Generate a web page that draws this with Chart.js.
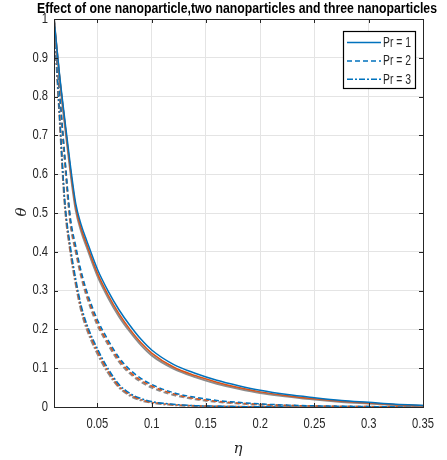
<!DOCTYPE html>
<html>
<head>
<meta charset="utf-8">
<script src="https://cdn.jsdelivr.net/npm/chart.js@4.4.1/dist/chart.umd.min.js"></script>
<style>
  body { margin: 0; background: #fff; }
</style>
</head>
<body>
<canvas id="c" width="447" height="460"></canvas>
<script>
// eta (x) values
const eta = [0.01, 0.015, 0.02, 0.025, 0.03, 0.035, 0.04, 0.05, 0.06, 0.07, 0.08, 0.09, 0.1,
  0.12, 0.14, 0.16, 0.18, 0.2, 0.225, 0.25, 0.275, 0.3, 0.325, 0.35];

// Pr = 1 (solid)
const pr1Blue = [1.0, 0.86, 0.74, 0.625, 0.525, 0.47, 0.43, 0.355, 0.298, 0.25, 0.21, 0.175, 0.147,
  0.11, 0.087, 0.069, 0.055, 0.043, 0.032, 0.024, 0.017, 0.012, 0.007, 0.004];
const pr1Orange = [1.0, 0.855, 0.732, 0.615, 0.515, 0.46, 0.42, 0.345, 0.288, 0.24, 0.2, 0.166, 0.139,
  0.103, 0.081, 0.064, 0.05, 0.039, 0.029, 0.021, 0.015, 0.01, 0.006, 0.003];
const pr1Gray = [1.0, 0.85, 0.726, 0.608, 0.508, 0.453, 0.413, 0.338, 0.281, 0.233, 0.194, 0.16, 0.133,
  0.099, 0.077, 0.06, 0.047, 0.036, 0.027, 0.019, 0.013, 0.009, 0.005, 0.003];

// Pr = 2 (dashed)
const pr2Blue = [1.0, 0.82, 0.645, 0.49, 0.415, 0.35, 0.3, 0.225, 0.172, 0.127, 0.096, 0.074, 0.058,
  0.037, 0.025, 0.017, 0.012, 0.008, 0.005, 0.003, 0.002, 0.001, 0.0005, 0];
const pr2Orange = [1.0, 0.815, 0.637, 0.481, 0.406, 0.342, 0.292, 0.217, 0.165, 0.121, 0.09, 0.069, 0.054,
  0.034, 0.022, 0.015, 0.01, 0.007, 0.004, 0.0025, 0.0015, 0.001, 0.0005, 0];
const pr2Gray = [1.0, 0.81, 0.631, 0.475, 0.4, 0.336, 0.286, 0.211, 0.16, 0.116, 0.086, 0.065, 0.05,
  0.031, 0.02, 0.013, 0.009, 0.006, 0.0035, 0.002, 0.0012, 0.0008, 0.0004, 0];

// Pr = 3 (dash-dot)
const pr3Blue = [1.0, 0.76, 0.53, 0.415, 0.33, 0.262, 0.215, 0.15, 0.098, 0.058, 0.035, 0.022, 0.014,
  0.007, 0.0035, 0.002, 0.001, 0.0006, 0.0004, 0.0002, 0.0001, 0, 0, 0];
const pr3Orange = [1.0, 0.755, 0.522, 0.406, 0.322, 0.254, 0.208, 0.143, 0.092, 0.053, 0.032, 0.019, 0.012,
  0.006, 0.003, 0.0017, 0.0009, 0.0005, 0.0003, 0.0002, 0.0001, 0, 0, 0];
const pr3Gray = [1.0, 0.75, 0.516, 0.4, 0.316, 0.248, 0.202, 0.137, 0.087, 0.05, 0.029, 0.017, 0.011,
  0.005, 0.0027, 0.0015, 0.0008, 0.0004, 0.0002, 0.0001, 0, 0, 0, 0];

const xTicks = [0.05, 0.1, 0.15, 0.2, 0.25, 0.3, 0.35];
const legendLabels = ['Pr = 1', 'Pr = 2', 'Pr = 3'];
const titleText = 'Effect of one nanoparticle,two nanoparticles and three nanoparticles';

const BLUE = '#0072BD';
const ORANGE = '#D95319';
const GRAY = '#8c8c8c';
const AXIS = '#262626';
const FONT = '"Liberation Sans", Arial, sans-serif';

const dashes = [[], [5, 3], [6, 2, 2, 2]];

function series(vals, color, dash, width) {
  return {
    data: eta.map((x, i) => ({ x, y: vals[i] })),
    borderColor: color,
    borderWidth: width,
    borderDash: dash,
    pointRadius: 0,
    fill: false,
    cubicInterpolationMode: 'monotone'
  };
}

// chart.js paints dataset 0 last, so blue goes first
const datasets = [
  series(pr1Blue, BLUE, dashes[0], 1.5),
  series(pr1Orange, ORANGE, dashes[0], 1.5),
  series(pr1Gray, GRAY, dashes[0], 2),
  series(pr2Blue, BLUE, dashes[1], 1.5),
  series(pr2Orange, ORANGE, dashes[1], 1.5),
  series(pr2Gray, GRAY, dashes[1], 2),
  series(pr3Blue, BLUE, dashes[2], 1.5),
  series(pr3Orange, ORANGE, dashes[2], 1.5),
  series(pr3Gray, GRAY, dashes[2], 2)
];

// narrow-looking text: squeeze to ~80% of its natural width
function squeezed(ctx, txt, x, y, k) {
  ctx.fillText(txt, x, y, ctx.measureText(txt).width * k);
}

// box, inward ticks, tick labels, title, axis labels, legend
const decor = {
  id: 'decor',
  afterDraw(chart) {
    const ctx = chart.ctx;
    const a = chart.chartArea;
    const xs = chart.scales.x, ys = chart.scales.y;
    ctx.save();
    ctx.strokeStyle = AXIS;
    ctx.lineWidth = 1;
    ctx.setLineDash([]);
    ctx.strokeRect(Math.round(a.left) + 0.5, Math.round(a.top) + 0.5,
      Math.round(a.right - a.left), Math.round(a.bottom - a.top));

    ctx.beginPath();
    xTicks.forEach(v => {
      const px = Math.round(xs.getPixelForValue(v)) + 0.5;
      ctx.moveTo(px, a.bottom); ctx.lineTo(px, a.bottom - 4);
      ctx.moveTo(px, a.top); ctx.lineTo(px, a.top + 4);
    });
    ys.ticks.forEach(t => {
      const py = Math.round(ys.getPixelForValue(t.value)) + 0.5;
      ctx.moveTo(a.left, py); ctx.lineTo(a.left + 4, py);
      ctx.moveTo(a.right, py); ctx.lineTo(a.right - 4, py);
    });
    ctx.stroke();

    // tick labels
    ctx.fillStyle = AXIS;
    ctx.font = '14px ' + FONT;
    ctx.textBaseline = 'middle';
    ctx.textAlign = 'right';
    ys.ticks.forEach(t => {
      squeezed(ctx, String(Number(t.value.toFixed(1))), a.left - 6, ys.getPixelForValue(t.value), 0.8);
    });
    ctx.textAlign = 'center';
    xTicks.forEach(v => {
      squeezed(ctx, String(v), xs.getPixelForValue(v), a.bottom + 17, 0.8);
    });

    // title
    ctx.fillStyle = '#000';
    ctx.font = 'bold 15px ' + FONT;
    ctx.fillText(titleText, 237, 9, 400);

    // axis labels
    ctx.fillStyle = AXIS;
    ctx.font = 'italic 15px "DejaVu Serif", serif';
    ctx.fillText('\u03B7', 238, 449);
    ctx.save();
    ctx.translate(22, 212);
    ctx.rotate(-Math.PI / 2);
    ctx.fillText('\u03B8', 0, 0);
    ctx.restore();

    // legend
    const lx = 343.5, ly = 31.5, lw = 72, lh = 57;
    ctx.fillStyle = '#fff';
    ctx.fillRect(lx, ly, lw, lh);
    ctx.strokeStyle = '#000';
    ctx.lineWidth = 1.2;
    ctx.strokeRect(lx, ly, lw, lh);
    ctx.font = '14px ' + FONT;
    ctx.textAlign = 'left';
    legendLabels.forEach((lab, i) => {
      const y = 42.5 + i * 18.4;
      ctx.strokeStyle = BLUE;
      ctx.lineWidth = 1.5;
      ctx.setLineDash(dashes[i]);
      ctx.beginPath();
      ctx.moveTo(347, y); ctx.lineTo(381, y);
      ctx.stroke();
      ctx.setLineDash([]);
      ctx.fillStyle = AXIS;
      ctx.fillText(lab, 383, y + 0.5, 28);
    });
    ctx.restore();
  }
};

new Chart(document.getElementById('c').getContext('2d'), {
  type: 'line',
  data: { datasets },
  options: {
    responsive: false,
    animation: false,
    devicePixelRatio: 1,
    layout: { padding: { top: 19, right: 24, left: 0, bottom: 0 } },
    plugins: { legend: { display: false }, tooltip: { enabled: false }, title: { display: false } },
    scales: {
      x: {
        type: 'linear',
        min: 0.01,
        max: 0.35,
        afterBuildTicks: s => { s.ticks = xTicks.map(v => ({ value: v })); },
        afterFit: s => { s.height = 53; },
        ticks: { display: false },
        grid: { color: '#e4e4e4', drawTicks: false },
        border: { display: false }
      },
      y: {
        min: 0,
        max: 1,
        afterFit: s => { s.width = 54; },
        ticks: { display: false, stepSize: 0.1 },
        grid: { color: '#e4e4e4', drawTicks: false },
        border: { display: false }
      }
    }
  },
  plugins: [decor]
});
</script>
</body>
</html>
